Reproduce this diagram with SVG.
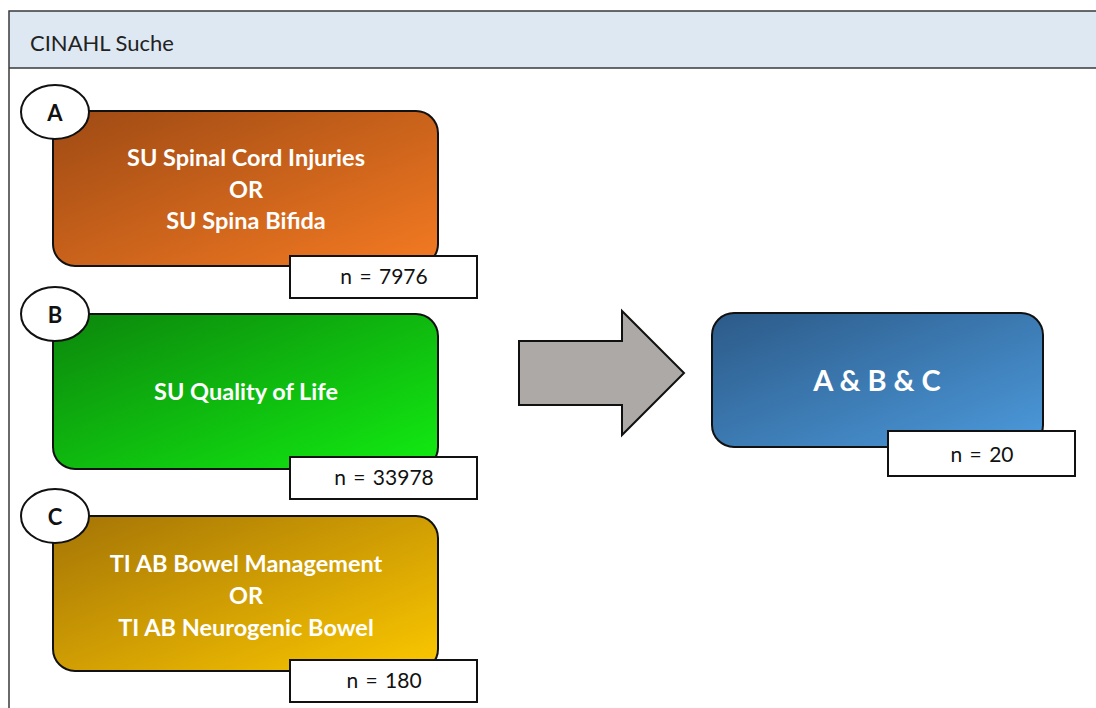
<svg xmlns="http://www.w3.org/2000/svg" width="1096" height="708" viewBox="0 0 1096 708">
<style>
.frame{fill:none;stroke:#3a3a3a;stroke-width:1.5}
.node{stroke:#111;stroke-width:2}
.lbl{fill:#fff;font-family:Lato,"Liberation Sans",sans-serif;font-weight:bold;font-size:23.5px;text-anchor:middle}
.tag{fill:#fff;stroke:#111;stroke-width:2}
.tagt{fill:#111;font-family:Lato,"Liberation Sans",sans-serif;font-size:21px;text-anchor:middle;word-spacing:2px}
.ell{fill:#fff;stroke:#111;stroke-width:2}
.ellt{fill:#111;font-family:Lato,"Liberation Sans",sans-serif;font-weight:bold;font-size:22px;text-anchor:middle}
</style>
<defs>
<linearGradient id="gA" x1="0" y1="0" x2="1" y2="1"><stop offset="0" stop-color="#9E4A14"/><stop offset="1" stop-color="#F47A22"/></linearGradient>
<linearGradient id="gB" x1="0" y1="0" x2="1" y2="1"><stop offset="0" stop-color="#0C860C"/><stop offset="1" stop-color="#12EC12"/></linearGradient>
<linearGradient id="gC" x1="0" y1="0" x2="1" y2="1"><stop offset="0" stop-color="#A47406"/><stop offset="1" stop-color="#FCC800"/></linearGradient>
<linearGradient id="gD" x1="0" y1="0" x2="1" y2="1"><stop offset="0" stop-color="#2C5A88"/><stop offset="1" stop-color="#4C9ADC"/></linearGradient>
</defs>
<rect width="1096" height="708" fill="#fff"/>
<g id="header">
<rect x="9" y="11" width="1100" height="57" fill="#DEE8F3"/>
<path class="frame" d="M1100 11 H9 V712 M9 68 H1100"/>
<text x="30" y="51" font-family="Lato,'Liberation Sans',sans-serif" font-size="22" fill="#222">CINAHL Suche</text>
</g>
<g id="connectors">
<path d="M519 341 H622 V311 L684 373 L622 435 V405 H519 Z" fill="#ADA9A7" stroke="#111" stroke-width="2"/>
</g>
<g id="nodeA">
<rect class="node" x="53" y="111" width="385" height="155" rx="22" fill="url(#gA)"/>
<text class="lbl" x="246" y="166">SU Spinal Cord Injuries</text>
<text class="lbl" x="246" y="198">OR</text>
<text class="lbl" x="246" y="229">SU Spina Bifida</text>
<ellipse class="ell" cx="55" cy="112" rx="34" ry="27"/>
<text class="ellt" x="55" y="121">A</text>
<rect class="tag" x="290" y="256" width="187" height="42"/>
<text class="tagt" x="384" y="284">n = 7976</text>
</g>
<g id="nodeB">
<rect class="node" x="53" y="314" width="385" height="155" rx="22" fill="url(#gB)"/>
<text class="lbl" x="246" y="400">SU Quality of Life</text>
<ellipse class="ell" cx="55" cy="314" rx="34" ry="27"/>
<text class="ellt" x="55" y="323">B</text>
<rect class="tag" x="290" y="457" width="187" height="42"/>
<text class="tagt" x="384" y="485">n = 33978</text>
</g>
<g id="nodeC">
<rect class="node" x="53" y="516" width="385" height="155" rx="22" fill="url(#gC)"/>
<text class="lbl" x="246" y="572">TI AB Bowel Management</text>
<text class="lbl" x="246" y="604">OR</text>
<text class="lbl" x="246" y="636">TI AB Neurogenic Bowel</text>
<ellipse class="ell" cx="55" cy="516" rx="34" ry="27"/>
<text class="ellt" x="55" y="525">C</text>
<rect class="tag" x="290" y="660" width="187" height="42"/>
<text class="tagt" x="384" y="688">n = 180</text>
</g>
<g id="nodeD">
<rect class="node" x="712" y="313" width="331" height="134" rx="22" fill="url(#gD)"/>
<text class="lbl" x="877" y="391" style="font-size:29px">A &amp; B &amp; C</text>
<rect class="tag" x="888" y="431" width="187" height="45"/>
<text class="tagt" x="982" y="462">n = 20</text>
</g>
</svg>
